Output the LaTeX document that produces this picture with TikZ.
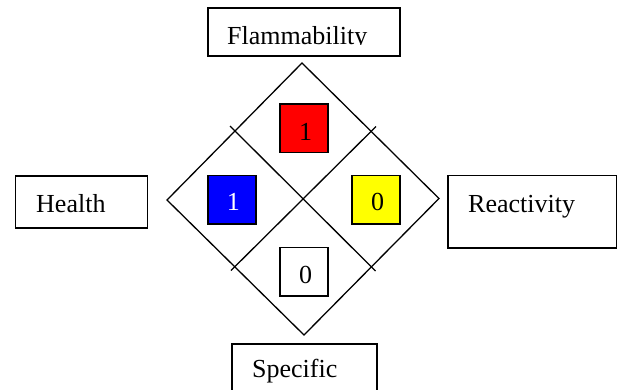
\documentclass[tikz,border=0pt]{standalone}
\usepackage{fontspec}
\setmainfont{Liberation Serif}
\begin{document}
\begin{tikzpicture}[x=1pt,y=-1pt,
  lbl/.style={draw=black,line width=1.5pt,fill=white,anchor=north west,inner sep=0pt},
  sq/.style={draw=black,line width=1.5pt,anchor=north west,inner sep=0pt,minimum width=48pt,minimum height=48.5pt},
  txt/.style={inner sep=0pt,font=\fontsize{26}{30}\selectfont},
  dline/.style={line width=1.3pt,black}]
\useasboundingbox (0,0) rectangle (618,389);
\clip (0,0) rectangle (618,389);
\fill[white] (0,0) rectangle (618,389);
% diamond
\coordinate (T) at (302,63);
\coordinate (R) at (439,198.5);
\coordinate (B) at (304,335);
\coordinate (L) at (167,200);
\draw[dline,line join=miter] (T) -- (R) -- (B) -- (L) -- cycle;
\coordinate (a1) at (230,126);
\coordinate (a2) at (375.5,271);
\coordinate (b1) at (376,126.5);
\coordinate (b2) at (231,270.5);
\draw[dline] (a1) -- (a2);
\draw[dline] (b1) -- (b2);
% label boxes
\node[lbl,minimum width=192pt,minimum height=48pt] (flam) at (207,7) {};
\node[lbl,minimum width=132pt,minimum height=52pt] (health) at (14.5,175) {};
\node[lbl,minimum width=168.5pt,minimum height=72.5pt] (react) at (447,174.5) {};
\node[lbl,minimum width=145pt,minimum height=80pt] (spec) at (231,343) {};
\begin{scope}
\clip (207,7) rectangle (399,44.3);
\node[txt,anchor=base west] (flamt) at (227,44) {Flammability};
\end{scope}
\node[txt,anchor=base west] (healtht) at (36,212.3) {Health};
\node[txt,anchor=base west] (reactt) at (468,212.3) {Reactivity};
\node[txt,anchor=base west] (spect) at (252,377.5) {Specific};
% hazard squares
\node[sq,fill={rgb,255:red,255;green,0;blue,0}] (red) at (279.3,103) {};
\node[sq,fill={rgb,255:red,0;green,0;blue,255}] (blue) at (207,174.5) {};
\node[sq,fill={rgb,255:red,255;green,255;blue,0}] (yellow) at (351,174.5) {};
\node[sq,fill=white] (white) at (279,246.7) {};
\node[txt,anchor=base] (redt) at (305.5,140) {1};
\node[txt,anchor=base,text=white] (bluet) at (233.3,210.7) {1};
\node[txt,anchor=base] (yellowt) at (377.7,210.7) {0};
\node[txt,anchor=base] (whitet) at (305.7,283.3) {0};
\end{tikzpicture}
\end{document}
